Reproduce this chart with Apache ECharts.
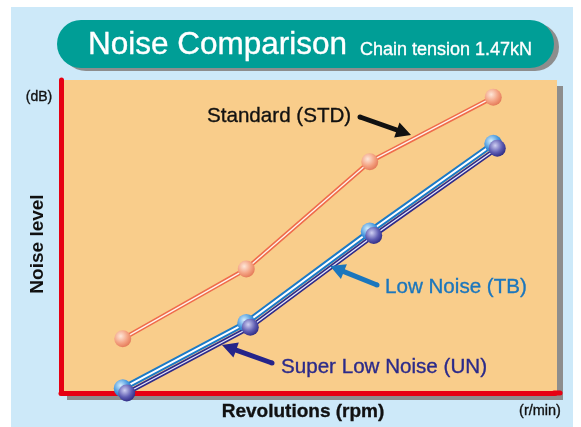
<!DOCTYPE html>
<html>
<head>
<meta charset="utf-8">
<script src="https://cdn.jsdelivr.net/npm/echarts@6/dist/echarts.min.js"></script>
<style>
  html, body { margin: 0; padding: 0; background: #ffffff; }
  #chart { width: 581px; height: 427px; }
</style>
</head>
<body>
<div id="chart"></div>
<script>
// Revolution steps along the x axis (no tick labels are shown)
const speedSteps = ['R1', 'R2', 'R3', 'R4'];
// Relative noise level for each chain type
const stdNoise = [17.3, 39.6, 73.9, 94.5];
const tbNoise  = [1.5, 22.4, 51.6, 79.6];
const unNoise  = [0, 21.0, 50.3, 78.2];
const noiseRange = [0, 100];

const FONT = '"Liberation Sans", Arial, Helvetica, sans-serif';
const RED = '#e60012';

function ball(c0, c1, c2) {
  return {
    type: 'radial', x: 0.38, y: 0.34, r: 0.75,
    colorStops: [
      { offset: 0, color: c0 },
      { offset: 0.55, color: c1 },
      { offset: 1, color: c2 }
    ]
  };
}

// Thick arrow outline from tail to tip
function arrowShape(tail, tip, shaft, headLen, headHalf) {
  const dx = tip[0] - tail[0], dy = tip[1] - tail[1];
  const len = Math.hypot(dx, dy);
  const ux = dx / len, uy = dy / len;
  const px = -uy, py = ux;
  const bx = tip[0] - ux * headLen, by = tip[1] - uy * headLen;
  const s = shaft / 2;
  return [
    [tail[0] + px * s, tail[1] + py * s],
    [bx + px * s, by + py * s],
    [bx + px * headHalf, by + py * headHalf],
    tip,
    [bx - px * headHalf, by - py * headHalf],
    [bx - px * s, by - py * s],
    [tail[0] - px * s, tail[1] - py * s]
  ];
}

function arrow(tail, tip, color) {
  return [
    { type: 'polygon', z: 100, shape: { points: arrowShape(tail, tip, 5, 15, 8) }, style: { fill: color } },
    { type: 'circle', z: 100, shape: { cx: tail[0], cy: tail[1], r: 2.5 }, style: { fill: color } }
  ];
}

function label(text, x, y, size, color, align, weight) {
  return {
    type: 'text', z: 100,
    style: {
      text: text, x: x, y: y, font: (weight || 'normal') + ' ' + size + 'px ' + FONT,
      fill: color, stroke: color, lineWidth: 0.35,
      textAlign: align, textVerticalAlign: 'middle'
    }
  };
}

const chart = echarts.init(document.getElementById('chart'), null, { renderer: 'canvas' });

const lineBase = { type: 'line', symbol: 'none', silent: true, clip: false, animation: false };

chart.setOption({
  backgroundColor: '#ffffff',
  animation: false,
  grid: [
    { left: 61, top: 80, width: 494, height: 313 },
    { left: 65, top: 80, width: 494, height: 313 }
  ],
  xAxis: [
    {
      type: 'category', gridIndex: 0, data: speedSteps, boundaryGap: true,
      axisLine: { show: true, lineStyle: { color: RED, width: 5, cap: 'round' } },
      axisTick: { show: false }, axisLabel: { show: false }, splitLine: { show: false }
    },
    { type: 'category', gridIndex: 1, data: speedSteps, boundaryGap: true, show: false }
  ],
  yAxis: [
    {
      type: 'value', gridIndex: 0, min: noiseRange[0], max: noiseRange[1],
      axisLine: { show: true, lineStyle: { color: RED, width: 5, cap: 'round' } },
      axisTick: { show: false }, axisLabel: { show: false }, splitLine: { show: false }
    },
    { type: 'value', gridIndex: 1, min: noiseRange[0], max: noiseRange[1], show: false }
  ],
  graphic: [
    // page panel
    { type: 'rect', z: -20, shape: { x: 11, y: 7, width: 562, height: 420 }, style: { fill: '#cde9f9' } },
    // title pill with its shadow
    { type: 'rect', z: -19, shape: { x: 62, y: 23, width: 497, height: 48, r: 24 }, style: { fill: '#8d8d8d' } },
    { type: 'rect', z: -18, shape: { x: 57, y: 20, width: 497, height: 48, r: 24 }, style: { fill: '#009e96' } },
    label('Noise Comparison', 88, 45.5, 31.5, '#ffffff', 'left'),
    label('Chain tension 1.47kN', 360, 50.5, 18, '#ffffff', 'left'),
    // plot area with its shadow
    { type: 'rect', z: -17, shape: { x: 67, y: 86, width: 496, height: 314 }, style: { fill: '#8d8d8d' } },
    { type: 'rect', z: -16, shape: { x: 61, y: 80, width: 496, height: 313 }, style: { fill: '#f9cd8b' } },
    { type: 'line', z: -15, shape: { x1: 554, y1: 393, x2: 560, y2: 393 }, style: { stroke: RED, lineWidth: 5, lineCap: 'round' } },
    // axis captions
    label('(dB)', 39, 97, 14, '#111111', 'center'),
    {
      type: 'text', z: 100, x: 38, y: 244, rotation: Math.PI / 2,
      style: { text: 'Noise level', x: 0, y: 0, font: 'bold 19px ' + FONT, fill: '#111111', textAlign: 'center', textVerticalAlign: 'middle' }
    },
    label('Revolutions (rpm)', 303, 412, 19, '#111111', 'center', 'bold'),
    label('(r/min)', 540, 411, 14.5, '#111111', 'center'),
    // series call-outs
    label('Standard (STD)', 207, 116, 20.6, '#111111', 'left'),
    label('Low Noise (TB)', 385, 287, 20.6, '#1b76bd', 'left'),
    label('Super Low Noise (UN)', 281, 367, 20.6, '#2b2a8a', 'left'),
    ...arrow([360, 117], [411, 135], '#111111'),
    ...arrow([377, 285], [330, 266], '#1b76bd'),
    ...arrow([272, 363], [222, 345], '#25248a')
  ],
  series: [
    // Standard chain: orange line with pale core
    Object.assign({}, lineBase, { name: 'Standard (STD)', data: stdNoise, z: 2, lineStyle: { color: '#ef6b4b', width: 4.5 } }),
    Object.assign({}, lineBase, { data: stdNoise, z: 3, lineStyle: { color: '#fff2ea', width: 1.4 } }),
    // Low noise chain: blue line with white core
    Object.assign({}, lineBase, { name: 'Low Noise (TB)', data: tbNoise, z: 2, lineStyle: { color: '#1a7ac8', width: 6 } }),
    Object.assign({}, lineBase, { data: tbNoise, z: 3, lineStyle: { color: '#ffffff', width: 2 } }),
    // Super low noise chain: navy line with light core
    Object.assign({}, lineBase, { name: 'Super Low Noise (UN)', data: unNoise, xAxisIndex: 1, yAxisIndex: 1, z: 2, lineStyle: { color: '#2e2a8a', width: 4.5 } }),
    Object.assign({}, lineBase, { data: unNoise, xAxisIndex: 1, yAxisIndex: 1, z: 3, lineStyle: { color: '#e6e6fa', width: 1.3 } }),
    // point markers
    { type: 'scatter', data: stdNoise, symbolSize: 17, z: 5, silent: true, clip: false,
      itemStyle: { color: ball('#fde6d8', '#f4a282', '#e0704e'), opacity: 1 } },
    { type: 'scatter', data: tbNoise, symbolSize: 18, z: 5, silent: true, clip: false,
      itemStyle: { color: ball('#d6eefc', '#4a9ae0', '#0f5fae'), opacity: 1 } },
    { type: 'scatter', data: unNoise, xAxisIndex: 1, yAxisIndex: 1, symbolSize: 17, z: 6, silent: true, clip: false,
      itemStyle: { color: ball('#cfcff2', '#5e5cb2', '#23207a'), opacity: 1 } }
  ]
});
</script>
</body>
</html>
